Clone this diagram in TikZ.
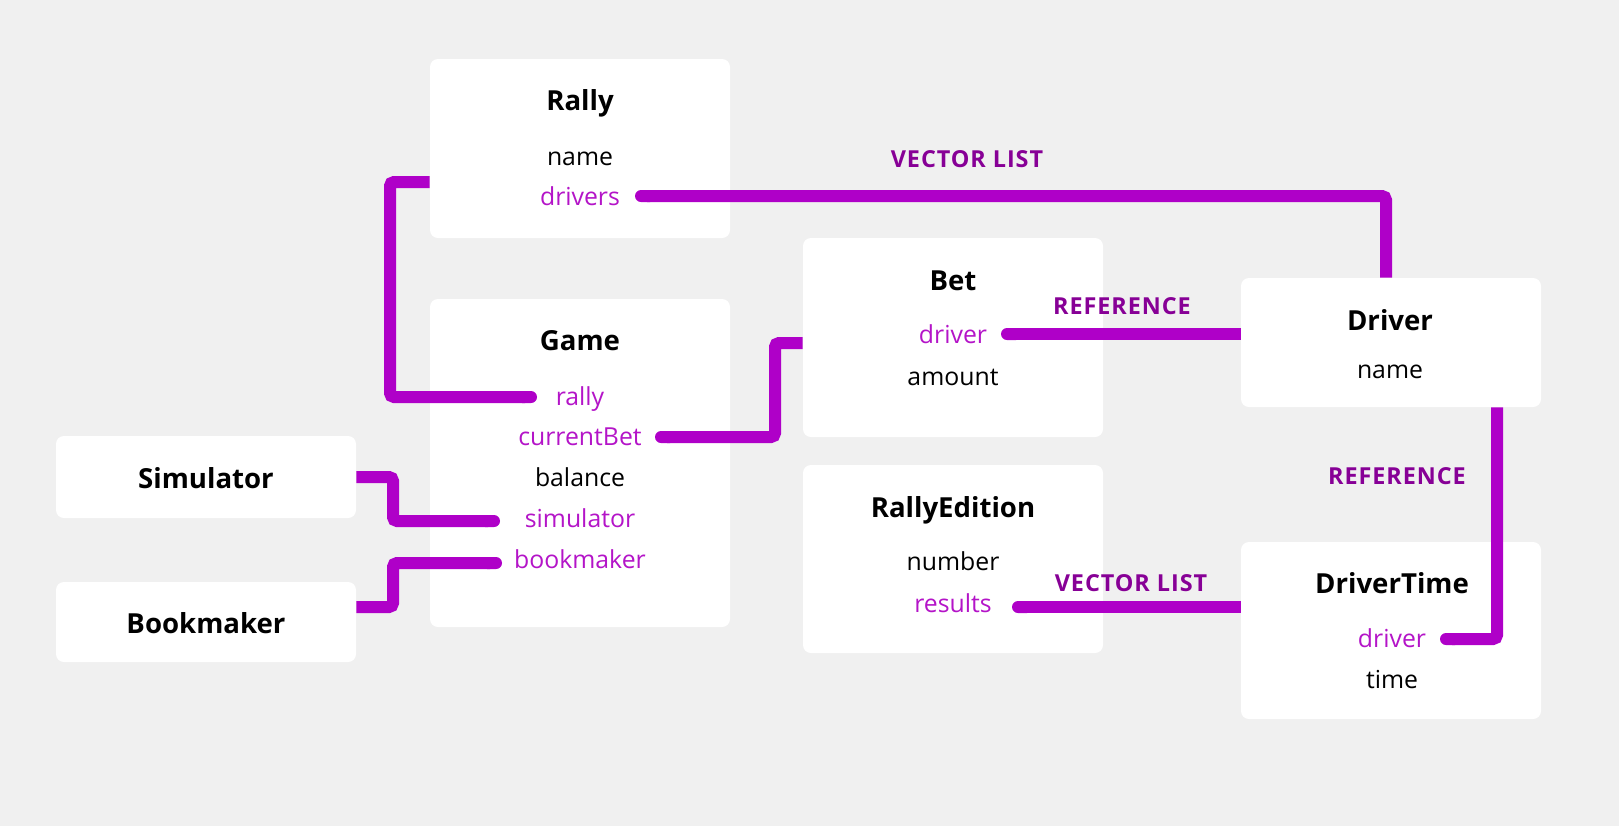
\documentclass[tikz,border=0pt]{standalone}
\usepackage{fontspec}
\setmainfont{Open Sans}
\usetikzlibrary{arrows.meta,calc}
\definecolor{bg}{HTML}{F0F0F0}
\definecolor{linkc}{HTML}{AF00C8}
\definecolor{attrc}{HTML}{B414C8}
\definecolor{lblc}{HTML}{870096}
\begin{document}
\begin{tikzpicture}[x=0.5pt,y=-0.5pt,
  box/.style={fill=white,rounded corners=4pt,minimum width=150pt,inner sep=0pt},
  ttl/.style={font=\fontsize{13.8}{16}\selectfont\bfseries,text=black,text height=0.75em,text depth=0.25em,inner sep=0pt},
  attr/.style={font=\fontsize{12.4}{14}\selectfont,text=black,text height=0.75em,text depth=0.25em,inner sep=0pt},
  fk/.style={attr,text=attrc},
  lbl/.style={font=\fontsize{11.7}{13}\selectfont\bfseries\addfontfeature{LetterSpace=4},text=lblc,text height=0.75em,text depth=0.25em,inner sep=0pt},
  conn/.style={draw=linkc,line width=6pt,rounded corners=2pt,line cap=butt}]
\fill[bg] (0,0) rectangle (1619,826);
\useasboundingbox (0,0) rectangle (1619,826);
% boxes
\node[box,minimum height=89.5pt] (Rally) at (580,148.5) {};
\node[box,minimum height=164pt] (Game) at (580,463) {};
\node[box,minimum height=41pt] (Simulator) at (206,477) {};
\node[box,minimum height=40pt] (Bookmaker) at (206,622) {};
\node[box,minimum height=99.5pt] (Bet) at (953,337.5) {};
\node[box,minimum height=94pt] (RallyEdition) at (953,559) {};
\node[box,minimum height=64.5pt] (Driver) at (1391,342.5) {};
\node[box,minimum height=88.5pt] (DriverTime) at (1391,630.5) {};
% texts
\node[ttl] (tRally) at (580,105) {Rally};
\node[attr] (aRallyName) at (580,160) {name};
\node[fk] (aDrivers) at (580,200) {drivers};
\node[ttl] (tGame) at (580,345) {Game};
\node[fk] (aRally) at (580,400) {rally};
\node[fk] (aCurBet) at (580,440) {currentBet};
\node[attr] (aBalance) at (580,481) {balance};
\node[fk] (aSim) at (580,522) {simulator};
\node[fk] (aBook) at (580,563) {bookmaker};
\node[ttl] (tSim) at (206,483) {Simulator};
\node[ttl] (tBook) at (206,628) {Bookmaker};
\node[ttl] (tBet) at (953,285) {Bet};
\node[fk] (aBetDriver) at (953,338) {driver};
\node[attr] (aAmount) at (953,380) {amount};
\node[ttl] (tRE) at (953,512) {RallyEdition};
\node[attr] (aNumber) at (953,565) {number};
\node[fk] (aResults) at (953,607) {results};
\node[ttl] (tDriver) at (1390,325) {Driver};
\node[attr] (aDriverName) at (1390,373) {name};
\node[ttl] (tDT) at (1392,588) {DriverTime};
\node[fk] (aDTDriver) at (1392,642) {driver};
\node[attr] (aTime) at (1392,683) {time};
% labels
\node[lbl] (l1) at (967,162) {VECTOR LIST};
\node[lbl] (l2) at (1122,309) {REFERENCE};
\node[lbl] (l3) at (1397,479) {REFERENCE};
\node[lbl] (l4) at (1131,586) {VECTOR LIST};
% connector ends
\coordinate (rallyE) at (537,397);
\coordinate (drvS) at (635,196);
\coordinate (cbS) at (655,437);
\coordinate (bdS) at (1001,334);
\coordinate (simE) at (500,521);
\coordinate (bkE) at (502,563);
\coordinate (resS) at (1012,607);
\coordinate (dtE) at (1440,639);
% connectors
\draw[conn,-{Round Cap}] (Rally.west |- 0,182) -| (390,397) -- (rallyE);
\draw[conn,{Round Cap}-] (drvS) -| (Driver.north -| 1386,0);
\draw[conn,{Round Cap}-] (cbS) -| (775,343) -- (Bet.west |- 0,343);
\draw[conn,{Round Cap}-] (bdS) -- (Driver.west |- bdS);
\draw[conn,-{Round Cap}] (Simulator.east) -| (393,521) -- (simE);
\draw[conn,-{Round Cap}] (Bookmaker.east |- 0,607) -| (393,563) -- (bkE);
\draw[conn,{Round Cap}-] (resS) -- (DriverTime.west |- resS);
\draw[conn,-{Round Cap}] (Driver.south -| 1497,0) |- (dtE);
\end{tikzpicture}
\end{document}
